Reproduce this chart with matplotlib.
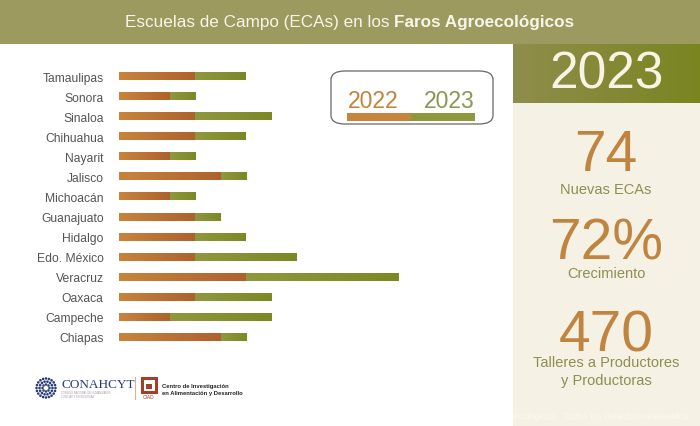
"""
Escuelas de Campo (ECAs) en los Faros Agroecológicos: stacked bars per state
with a summary panel on the right.
"""

import numpy as np
import matplotlib.pyplot as plt
from matplotlib.patches import Rectangle, FancyBboxPatch, Circle
from matplotlib.colors import LinearSegmentedColormap

plt.rcParams['font.family'] = ['Liberation Sans', 'DejaVu Sans']

# Data
states = ["Tamaulipas", "Sonora", "Sinaloa", "Chihuahua", "Nayarit", "Jalisco",
          "Michoacán", "Guanajuato", "Hidalgo", "Edo. México", "Veracruz",
          "Oaxaca", "Campeche", "Chiapas"]
ecas_2022 = [3, 2, 3, 3, 2, 4, 2, 3, 3, 3, 5, 3, 2, 4]
ecas_2023 = [2, 1, 3, 2, 1, 1, 1, 1, 2, 4, 6, 3, 4, 1]
years = ["2022", "2023"]
stats = [("74", "Nuevas ECAs"), ("72%", "Crecimiento"),
         ("470", "Talleres a Productores\ny Productoras")]

# Colours
TITLE_BG = "#9c9a5e"
PANEL_BG = "#f5f1e5"
ORANGE = ("#c8843c", "#ae612d")
GREEN = ("#90983e", "#7b8924")
STAT_NUM = "#c0843f"
STAT_TXT = "#8e8e50"

W, H = 700, 427
fig = plt.figure(figsize=(W / 100, H / 100), dpi=100)
fig.patch.set_facecolor("white")


def fx(px):
    return px / W


def fy(py):
    return 1 - py / H


# title bar
fig.patches.append(Rectangle((0, fy(45)), 1, 45 / H, transform=fig.transFigure,
                             facecolor=TITLE_BG, edgecolor="none", zorder=0))
t1 = fig.text(fx(125), fy(22), "Escuelas de Campo (ECAs) en los ", ha="left",
              va="center", color="#f7f5ea", fontsize=12.3)
fig.canvas.draw()
bb = t1.get_window_extent()
fig.text(bb.x1 / fig.dpi / fig.get_figwidth(), fy(22), "Faros Agroecológicos",
         ha="left", va="center", color="#f7f5ea", fontsize=12.3, weight="bold")

# right panel
fig.patches.append(Rectangle((fx(513), 0), 1 - fx(513), fy(45), transform=fig.transFigure,
                             facecolor=PANEL_BG, edgecolor="none", zorder=0))
hdr = fig.add_axes([fx(513), fy(104), 1 - fx(513), 59 / H], zorder=5)
hdr.imshow(np.linspace(0, 1, 256)[None, :], aspect="auto", extent=(0, 1, 0, 1),
           cmap=LinearSegmentedColormap.from_list("h", ["#8f8d4c", "#7a8520"]))
hdr.text(0.5, 0.5, "2023", ha="center", va="center", color="#f7f4e6",
         fontsize=37, transform=hdr.transAxes)
hdr.set_axis_off()

for (num, label), y in zip(stats, [171, 260, 352]):
    fig.text(fx(606), fy(y), num, ha="center", va="baseline", color=STAT_NUM,
             fontsize=41)
for (num, label), y in zip(stats, [190, 274, 372]):
    fig.text(fx(606), fy(y), label, ha="center", va="center", color=STAT_TXT,
             fontsize=10.5, linespacing=1.45)
fig.text(fx(513), fy(417), "ecológicos · Todos los derechos reservados", ha="left",
         va="center", color="#fbf9f2", fontsize=6.5)

# bars
ax = fig.add_axes([fx(119), fy(348), 305 / W, 281 / H], zorder=3)
y = np.arange(len(states))
b1 = ax.barh(y, ecas_2022, height=0.4, color=ORANGE[0])
b2 = ax.barh(y, ecas_2023, left=ecas_2022, height=0.4, color=GREEN[0])
ax.set_yticks(y, states)
ax.tick_params(axis="y", length=0, pad=11, labelsize=8.7, labelcolor="#555555")
ax.set_xticks([])
for s in ax.spines.values():
    s.set_visible(False)
ax.patch.set_alpha(0)

# gradient fill on each bar segment
grad = np.linspace(0, 1, 128)[None, :]
for bars, cols in ((b1, ORANGE), (b2, GREEN)):
    cmap = LinearSegmentedColormap.from_list("g", list(cols))
    for bar in bars:
        x0, w = bar.get_x(), bar.get_width()
        y0, h = bar.get_y(), bar.get_height()
        im = ax.imshow(grad, aspect="auto", cmap=cmap,
                       extent=(x0, x0 + w, y0 + h, y0), zorder=2)
        im.set_clip_path(bar)
ax.set_xlim(0, 12)
ax.set_ylim(len(states) - 0.5, -0.5)

# legend box
fig.patches.append(FancyBboxPatch((fx(331), fy(125)), fx(162), 53 / H,
                                  boxstyle="round,pad=0,rounding_size=0.02",
                                  transform=fig.transFigure, facecolor="white",
                                  edgecolor="#666666", linewidth=0.9, zorder=1))
lg = fig.add_axes([fx(347), fy(126), fx(128), 40 / H], zorder=5)
lg.set_xlim(0, 2)
lg.set_ylim(0, 1)
lg.barh([0.2, 0.2], [1, 1], left=[0, 1], height=0.18, color=[ORANGE[0], GREEN[0]])
lg.text(0.41, 0.62, years[0], ha="center", va="center", color=STAT_NUM, fontsize=16.5)
lg.text(1.59, 0.62, years[1], ha="center", va="center", color="#8c9650", fontsize=16.5)
lg.set_axis_off()

# logos (approximated)
lo = fig.add_axes([0, 0, 1, 1], zorder=2)
lo.patch.set_alpha(0)
lo.set_xlim(0, W)
lo.set_ylim(H, 0)
lo.set_axis_off()
for r, n in ((3.5, 8), (6.5, 14), (9.5, 20)):
    ang = np.linspace(0, 2 * np.pi, n, endpoint=False)
    for a in ang:
        lo.add_patch(Circle((46 + r * np.cos(a), 389 + r * np.sin(a)), 1.3,
                            color="#2b3f7a", lw=0))
lo.text(61, 385, "CONAHCYT", ha="left", va="center", color="#283b77",
        fontsize=9.5, family="Liberation Serif")
lo.text(61, 395, "CONSEJO NACIONAL DE HUMANIDADES\nCIENCIAS Y TECNOLOGÍAS",
        ha="left", va="center", color="#9a9aaa", fontsize=1.8, linespacing=1.2)
lo.plot([135, 135], [378, 400], color="#d9b48a", lw=0.8)
lo.add_patch(Rectangle((142, 379), 14, 14, facecolor="none", edgecolor="#a0402a", lw=2.2))
lo.add_patch(Rectangle((146, 385), 6, 5, facecolor="#a0402a", lw=0))
lo.text(149, 398, "CIAD", ha="center", va="center", color="#a0402a", fontsize=3.5)
lo.text(162, 390, "Centro de Investigación\nen Alimentación y Desarrollo",
        ha="left", va="center", color="#222222", fontsize=4.2, weight="bold",
        linespacing=1.35)

fig.savefig("out.png", dpi=100)
